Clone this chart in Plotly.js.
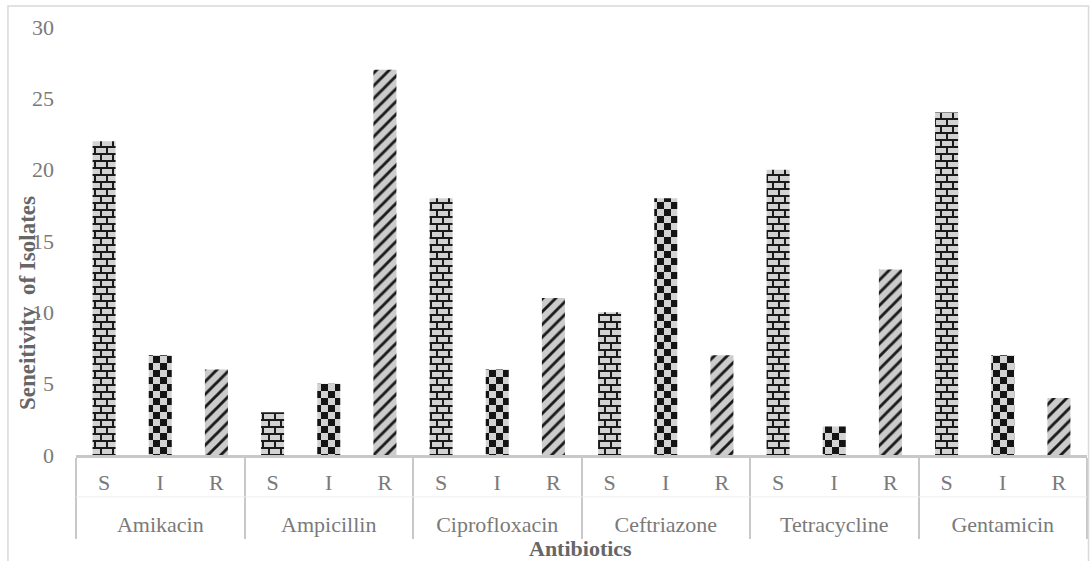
<!DOCTYPE html>
<html>
<head>
<meta charset="utf-8">
<script src="https://cdn.plot.ly/plotly-3.0.1.min.js"></script>
<style>html,body{margin:0;padding:0;background:#fff;}#chart{width:1091px;height:561px;}</style>
</head>
<body>
<div id="chart"></div>
<script>
var antibiotics = ["Amikacin", "Ampicillin", "Ciprofloxacin", "Ceftriazone", "Tetracycline", "Gentamicin"];
var levels = ["S", "I", "R"];
var sValues = [22, 3, 18, 10, 20, 24];
var iValues = [7, 5, 6, 18, 2, 7];
var rValues = [6, 27, 11, 7, 13, 4];
var yTicks = [0, 5, 10, 15, 20, 25, 30];

var seriesValues = [sValues, iValues, rValues];
var patterns = [
  {shape: "+", size: 7, solidity: 0.25},
  {shape: ".", size: 9, solidity: 0.6},
  {shape: "/", size: 9, solidity: 0.32}
];

// spacer span enlarges first-row label box so the group row sits lower
function lvLabel(lv) {
  return "<span style='font-size:41px'>\u200A</span>" + lv + "<span style='font-size:41px'>\u200A</span>";
}

var traces = levels.map(function (lv, k) {
  return {
    type: "bar",
    name: lv,
    x: [antibiotics, antibiotics.map(function () { return lvLabel(lv); })],
    y: seriesValues[k],
    width: 0.41,
    marker: {
      color: "#cccccc",
      line: {width: 0},
      pattern: {
        shape: patterns[k].shape,
        size: patterns[k].size,
        solidity: patterns[k].solidity,
        fgcolor: "#1a1a1a",
        bgcolor: "#cccccc",
        fillmode: "replace"
      }
    },
    hoverinfo: "x+y"
  };
});

var gray = "#c8c8c8";
var font = "Liberation Serif, Times New Roman, serif";

var layout = {
  width: 1091,
  height: 561,
  margin: {l: 76, r: 4, t: 27, b: 106},
  paper_bgcolor: "#ffffff",
  plot_bgcolor: "#ffffff",
  barmode: "overlay",
  showlegend: false,
  font: {family: font, size: 22, color: "#7a7a7a"},
  xaxis: {
    type: "multicategory",
    showline: true,
    linecolor: gray,
    linewidth: 3,
    showgrid: false,
    zeroline: false,
    ticks: "",
    ticklabelstandoff: 6,
    showdividers: true,
    dividercolor: gray,
    dividerwidth: 2,
    tickfont: {family: font, size: 22, color: "#7a7a7a"}
  },
  yaxis: {
    range: [0, 30],
    tickvals: yTicks,
    ticktext: yTicks.map(String),
    showgrid: false,
    zeroline: false,
    showline: false,
    ticks: "",
    ticklabelstandoff: 21,
    tickfont: {family: font, size: 22, color: "#7a7a7a"}
  },
  shapes: [
    {type: "rect", xref: "paper", yref: "paper", x0: -0.0673, x1: 1.0015, y0: -0.27, y1: 1.049,
     line: {color: "#d9d9d9", width: 1.5}, fillcolor: "rgba(0,0,0,0)"},
    {type: "line", xref: "paper", yref: "paper", x0: 0, x1: 1, y0: -0.098, y1: -0.098,
     line: {color: "#eeeeee", width: 1}}
  ],
  annotations: [
    {text: "<b>Antibiotics</b>", xref: "paper", yref: "paper", x: 0.4995, y: -0.2196,
     showarrow: false, xanchor: "center", yanchor: "middle",
     font: {family: font, size: 22, color: "#666666"}},
    {text: "<b>Seneitivity  of Isolates</b>", xref: "paper", yref: "paper", x: -0.0485, y: 0.355,
     textangle: -90, showarrow: false, xanchor: "center", yanchor: "middle",
     font: {family: font, size: 23, color: "#666666"}}
  ]
};

var SVGNS = "http://www.w3.org/2000/svg";
function el(tag, attrs) {
  var e = document.createElementNS(SVGNS, tag);
  for (var a in attrs) e.setAttribute(a, attrs[a]);
  return e;
}
var tileBuilders = [
  function (p) { // brick
    p.setAttribute("width", 12); p.setAttribute("height", 14);
    p.appendChild(el("rect", {x: 0, y: 0, width: 12, height: 14, fill: "#d2d2d2"}));
    p.appendChild(el("rect", {x: 0, y: 0, width: 12, height: 2, fill: "#1a1a1a"}));
    p.appendChild(el("rect", {x: 0, y: 7, width: 12, height: 2, fill: "#1a1a1a"}));
    p.appendChild(el("rect", {x: 0, y: 0, width: 2, height: 7, fill: "#1a1a1a"}));
    p.appendChild(el("rect", {x: 6, y: 7, width: 2, height: 7, fill: "#1a1a1a"}));
  },
  function (p) { // checkerboard
    p.setAttribute("width", 14); p.setAttribute("height", 14);
    p.appendChild(el("rect", {x: 0, y: 0, width: 14, height: 14, fill: "#d2d2d2"}));
    p.appendChild(el("rect", {x: 0, y: 0, width: 7, height: 7, fill: "#141414"}));
    p.appendChild(el("rect", {x: 7, y: 7, width: 7, height: 7, fill: "#141414"}));
  },
  null
];

Plotly.newPlot("chart", traces, layout, {displayModeBar: false, staticPlot: true}).then(function (gd) {
  try {
    var groups = gd.querySelectorAll(".barlayer .trace");
    groups.forEach(function (g, k) {
      if (!tileBuilders[k]) return;
      var path = g.querySelector(".point path");
      if (!path) return;
      var fill = path.style.fill || path.getAttribute("fill") || "";
      var m = fill.match(/#([^'")]+)/);
      if (!m) return;
      var pat = document.getElementById(m[1]);
      if (!pat) return;
      while (pat.firstChild) pat.removeChild(pat.firstChild);
      tileBuilders[k](pat);
    });
  } catch (e) {}
});
</script>
</body>
</html>
